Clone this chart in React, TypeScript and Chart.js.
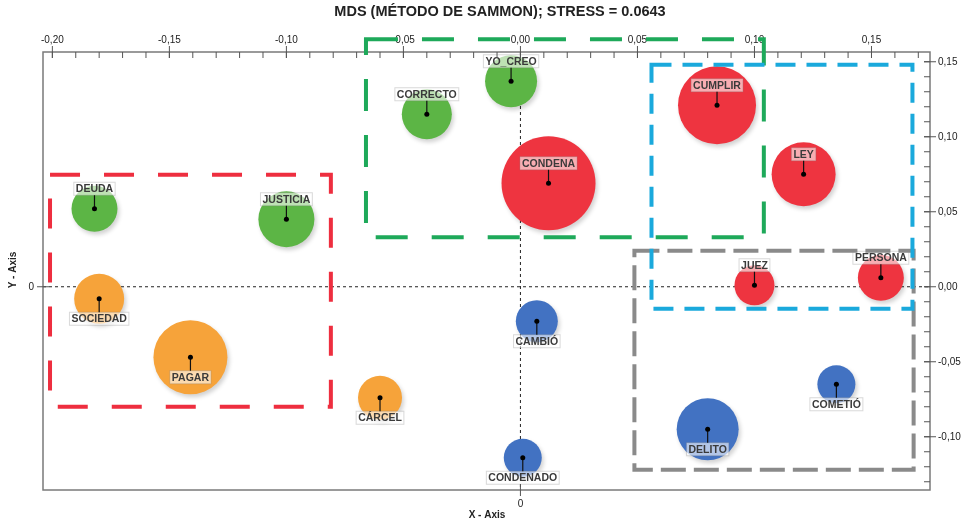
import React, { useEffect, useRef } from 'react';
import { Chart, registerables } from 'chart.js';

Chart.register(...registerables);

// ---------- data ----------
const WORDS = ['YO_CREO', 'CORRECTO', 'CONDENA', 'CUMPLIR', 'LEY', 'DEUDA', 'JUSTICIA', 'SOCIEDAD', 'PAGAR', 'CÁRCEL', 'CAMBIÓ', 'CONDENADO', 'JUEZ', 'PERSONA', 'COMETIÓ', 'DELITO'];
const X_VALUES = [-0.004, -0.040, 0.012, 0.084, 0.121, -0.182, -0.100, -0.180, -0.141, -0.060, 0.007, 0.001, 0.100, 0.154, 0.135, 0.080];
const Y_VALUES = [0.137, 0.115, 0.069, 0.121, 0.075, 0.052, 0.045, -0.008, -0.047, -0.074, -0.023, -0.114, 0.001, 0.006, -0.065, -0.095];
const SIZES = [26, 25, 47, 39, 32, 23, 28, 25, 37, 22, 21, 19, 20, 23, 19, 31];
const GROUPS = ['green', 'green', 'red', 'red', 'red', 'green', 'green', 'orange', 'orange', 'orange', 'blue', 'blue', 'red', 'red', 'blue', 'blue'];
const LABEL_SIDE = ['up', 'up', 'up', 'up', 'up', 'up', 'up', 'down', 'down', 'down', 'down', 'down', 'up', 'up', 'down', 'down'];

const GROUP_NAMES = ['green', 'red', 'orange', 'blue'];
const GROUP_COLORS: Record<string, string> = { green: '#5cb545', red: '#ee3440', orange: '#f6a33a', blue: '#4272c2' };

// cluster boxes (data units)
const BOX_X1 = [-0.201, -0.066, 0.0487, 0.056];
const BOX_X2 = [-0.081, 0.104, 0.168, 0.1675];
const BOX_Y1 = [0.0747, 0.165, 0.024, 0.148];
const BOX_Y2 = [-0.080, 0.033, -0.122, -0.0147];
const BOX_COLORS = ['#ee2e3f', '#1ea95a', '#8a8a8a', '#1aa9dc'];
const BOX_DASH = [[30, 24], [32, 24], [25, 8], [20, 11]];

// axis ranges and ticks
const X_MIN = -0.204;
const X_MAX = 0.175;
const Y_MIN = -0.1355;
const Y_MAX = 0.1565;
const TOP_TICKS = [-0.20, -0.15, -0.10, -0.05, 0.0, 0.05, 0.10, 0.15];
const RIGHT_TICKS = [-0.10, -0.05, 0.0, 0.05, 0.10, 0.15];
const TOP_MINOR = [-0.20, -0.19, -0.18, -0.17, -0.16, -0.15, -0.14, -0.13, -0.12, -0.11, -0.10, -0.09, -0.08, -0.07, -0.06, -0.05, -0.04, -0.03, -0.02, -0.01, 0.0, 0.01, 0.02, 0.03, 0.04, 0.05, 0.06, 0.07, 0.08, 0.09, 0.10, 0.11, 0.12, 0.13, 0.14, 0.15, 0.16, 0.17];
const RIGHT_MINOR = [-0.13, -0.12, -0.11, -0.10, -0.09, -0.08, -0.07, -0.06, -0.05, -0.04, -0.03, -0.02, -0.01, 0.0, 0.01, 0.02, 0.03, 0.04, 0.05, 0.06, 0.07, 0.08, 0.09, 0.10, 0.11, 0.12, 0.13, 0.14, 0.15];
const BOTTOM_TICKS = [0];
const LEFT_TICKS = [0];

const TITLE = 'MDS (MÉTODO DE SAMMON); STRESS = 0.0643';
const X_TITLE = 'X - Axis';
const Y_TITLE = 'Y - Axis';

const FONT = '"Liberation Sans", Arial, sans-serif';

const fmtComma = (v: number) => (Math.abs(v) < 1e-9 ? '0,00' : v.toFixed(2).replace('.', ','));

export default function App() {
  const ref = useRef<HTMLCanvasElement | null>(null);

  useEffect(() => {
    document.body.style.margin = '0';
    const canvas = ref.current;
    if (!canvas) return;

    const datasets = GROUP_NAMES.map((g) => {
      const idx = WORDS.map((_, i) => i).filter((i) => GROUPS[i] === g);
      return {
        label: g,
        data: idx.map((i) => ({ x: X_VALUES[i], y: Y_VALUES[i], r: SIZES[i], word: WORDS[i], side: LABEL_SIDE[i] })),
        backgroundColor: GROUP_COLORS[g],
        borderWidth: 0,
        hoverRadius: 0,
      };
    });

    const setTicks = (arr: number[]) => (s: any) => {
      s.ticks = arr.map((v) => ({ value: v }));
    };

    const tickFont = { family: FONT, size: 10 };

    const decor = {
      id: 'decor',
      beforeDatasetsDraw(chart: any) {
        const { ctx, chartArea: a, scales } = chart;
        const x0 = scales.x.getPixelForValue(0);
        const y0 = scales.y.getPixelForValue(0);
        ctx.save();
        ctx.strokeStyle = '#222';
        ctx.lineWidth = 1;
        ctx.setLineDash([3, 3]);
        ctx.beginPath();
        ctx.moveTo(x0, a.top);
        ctx.lineTo(x0, a.bottom);
        ctx.moveTo(a.left, y0);
        ctx.lineTo(a.right, y0);
        ctx.stroke();
        ctx.restore();
      },
      beforeDatasetDraw(chart: any) {
        const ctx = chart.ctx;
        ctx.save();
        ctx.shadowColor = 'rgba(0,0,0,0.18)';
        ctx.shadowBlur = 4;
        ctx.shadowOffsetX = 2;
        ctx.shadowOffsetY = 3;
      },
      afterDatasetDraw(chart: any) {
        chart.ctx.restore();
      },
      afterDatasetsDraw(chart: any) {
        const { ctx } = chart;
        ctx.save();
        chart.data.datasets.forEach((ds: any, di: number) => {
          const meta = chart.getDatasetMeta(di);
          meta.data.forEach((el: any, pi: number) => {
            const d = ds.data[pi];
            const px = el.x;
            const py = el.y;
            ctx.font = `bold 10.5px ${FONT}`;
            const w = ctx.measureText(d.word).width;
            const h = 11;
            const cy = d.side === 'up' ? py - 20 : py + 20;
            ctx.fillStyle = 'rgba(255,255,255,0.6)';
            ctx.fillRect(px - w / 2 - 2, cy - h / 2 - 1, w + 4, h + 2);
            ctx.strokeStyle = 'rgba(130,130,130,0.3)';
            ctx.lineWidth = 1;
            ctx.strokeRect(px - w / 2 - 2, cy - h / 2 - 1, w + 4, h + 2);
            ctx.strokeStyle = '#111';
            ctx.lineWidth = 1.2;
            ctx.beginPath();
            ctx.moveTo(px, py);
            ctx.lineTo(px, d.side === 'up' ? cy + h / 2 + 1 : cy - h / 2 - 1);
            ctx.stroke();
            ctx.fillStyle = '#3a3a3a';
            ctx.textAlign = 'center';
            ctx.textBaseline = 'middle';
            ctx.fillText(d.word, px, cy + 0.5);
            ctx.fillStyle = '#000';
            ctx.beginPath();
            ctx.arc(px, py, 2.5, 0, Math.PI * 2);
            ctx.fill();
          });
        });
        ctx.restore();
      },
      afterDraw(chart: any) {
        const { ctx, chartArea: a, scales } = chart;
        ctx.save();
        // frame
        ctx.strokeStyle = '#7a7a7a';
        ctx.lineWidth = 1.5;
        ctx.strokeRect(a.left, a.top, a.right - a.left, a.bottom - a.top);
        // ticks
        ctx.strokeStyle = '#555';
        ctx.lineWidth = 1;
        ctx.beginPath();
        TOP_MINOR.forEach((v) => {
          const x = scales.x2.getPixelForValue(v);
          ctx.moveTo(x, a.top);
          ctx.lineTo(x, a.top + 6);
        });
        TOP_TICKS.forEach((v) => {
          const x = scales.x2.getPixelForValue(v);
          ctx.moveTo(x, a.top - 6);
          ctx.lineTo(x, a.top + 6);
        });
        RIGHT_MINOR.forEach((v) => {
          const y = scales.y2.getPixelForValue(v);
          ctx.moveTo(a.right - 6, y);
          ctx.lineTo(a.right, y);
        });
        RIGHT_TICKS.forEach((v) => {
          const y = scales.y2.getPixelForValue(v);
          ctx.moveTo(a.right - 6, y);
          ctx.lineTo(a.right + 6, y);
        });
        LEFT_TICKS.forEach((v) => {
          const y = scales.y.getPixelForValue(v);
          ctx.moveTo(a.left - 6, y);
          ctx.lineTo(a.left + 6, y);
        });
        BOTTOM_TICKS.forEach((v) => {
          const x = scales.x.getPixelForValue(v);
          ctx.moveTo(x, a.bottom - 6);
          ctx.lineTo(x, a.bottom + 6);
        });
        ctx.stroke();
        // cluster boxes
        ctx.lineWidth = 4;
        BOX_X1.forEach((_, i) => {
          const x1 = scales.x.getPixelForValue(BOX_X1[i]);
          const x2 = scales.x.getPixelForValue(BOX_X2[i]);
          const y1 = scales.y.getPixelForValue(BOX_Y1[i]);
          const y2 = scales.y.getPixelForValue(BOX_Y2[i]);
          ctx.strokeStyle = BOX_COLORS[i];
          ctx.setLineDash(BOX_DASH[i]);
          ctx.strokeRect(x1, y1, x2 - x1, y2 - y1);
        });
        ctx.setLineDash([]);
        // titles
        ctx.fillStyle = '#222';
        ctx.textAlign = 'center';
        ctx.textBaseline = 'middle';
        ctx.font = `bold 14.5px ${FONT}`;
        ctx.fillText(TITLE, 500, 12);
        ctx.font = `bold 10px ${FONT}`;
        ctx.fillText(X_TITLE, 487, 515);
        ctx.translate(13, 270);
        ctx.rotate(-Math.PI / 2);
        ctx.fillText(Y_TITLE, 0, 0);
        ctx.restore();
      },
    };

    const chart = new Chart(canvas, {
      type: 'bubble',
      data: { datasets: datasets as any },
      options: {
        animation: false,
        responsive: false,
        maintainAspectRatio: false,
        layout: { padding: 0, autoPadding: false },
        plugins: { legend: { display: false }, tooltip: { enabled: false }, title: { display: false } },
        scales: {
          x: {
            type: 'linear', position: 'bottom', min: X_MIN, max: X_MAX,
            afterBuildTicks: setTicks(BOTTOM_TICKS), afterFit: (s: any) => { s.height = 33; },
            grid: { display: false, drawTicks: false }, border: { display: false },
            ticks: { padding: 8, font: tickFont, color: '#222', autoSkip: false, maxRotation: 0, callback: (v: any) => String(v) },
          },
          x2: {
            type: 'linear', position: 'top', min: X_MIN, max: X_MAX,
            afterBuildTicks: setTicks(TOP_TICKS), afterFit: (s: any) => { s.height = 52; },
            grid: { display: false, drawTicks: false }, border: { display: false },
            ticks: { padding: 6, font: tickFont, color: '#222', autoSkip: false, maxRotation: 0, callback: (v: any) => fmtComma(Number(v)) },
          },
          y: {
            type: 'linear', position: 'left', min: Y_MIN, max: Y_MAX,
            afterBuildTicks: setTicks(LEFT_TICKS), afterFit: (s: any) => { s.width = 43; },
            grid: { display: false, drawTicks: false }, border: { display: false },
            ticks: { padding: 9, font: tickFont, color: '#222', autoSkip: false, callback: (v: any) => String(v) },
          },
          y2: {
            type: 'linear', position: 'right', min: Y_MIN, max: Y_MAX,
            afterBuildTicks: setTicks(RIGHT_TICKS), afterFit: (s: any) => { s.width = 42; },
            grid: { display: false, drawTicks: false }, border: { display: false },
            ticks: { padding: 8, font: tickFont, color: '#222', autoSkip: false, callback: (v: any) => fmtComma(Number(v)) },
          },
        },
      } as any,
      plugins: [decor],
    });

    return () => chart.destroy();
  }, []);

  return (
    <div style={{ width: 972, height: 523 }}>
      <canvas ref={ref} width={972} height={523} />
    </div>
  );
}
